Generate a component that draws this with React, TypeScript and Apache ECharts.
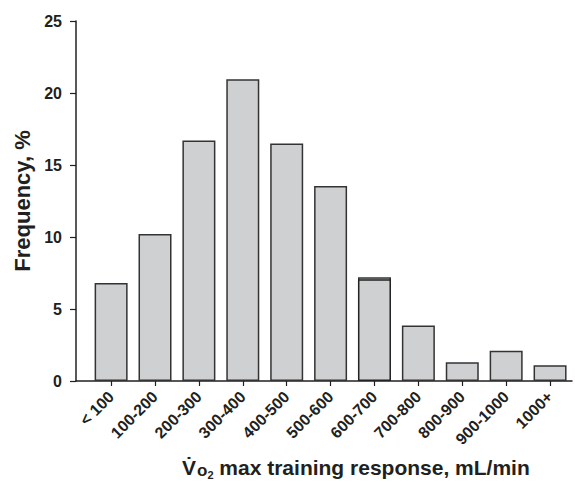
import React, { useEffect, useRef } from "react";
import * as echarts from "echarts";

const categories = ["< 100", "100-200", "200-300", "300-400", "400-500", "500-600", "600-700", "700-800", "800-900", "900-1000", "1000+"];
const frequency = [6.8, 10.2, 16.7, 20.95, 16.5, 13.55, 7.2, 3.85, 1.3, 2.1, 1.1];
// second outline drawn on top of the 600-700 bar, as in the original figure
const overlapIndex = [6];
const overlapValues = [7.07];
const yTicks = [0, 5, 10, 15, 20, 25];

const FONT = "'Liberation Sans', Arial, Helvetica, sans-serif";
const INK = "#231f20";

export default function App() {
  const ref = useRef<HTMLDivElement>(null);
  useEffect(() => {
    if (!ref.current) return;
    const chart = echarts.init(ref.current, undefined, { renderer: "svg" });
    const idx = categories.map((_, i) => i);
    chart.setOption({
      animation: false,
      backgroundColor: "#ffffff",
      grid: { left: 76, right: 3, top: 21, bottom: 101, containLabel: false },
      xAxis: {
        type: "value",
        min: -0.8,
        max: 10.5,
        splitLine: { show: false },
        axisLine: { show: true, onZero: false, lineStyle: { color: INK, width: 1.5 } },
        axisTick: { show: true, customValues: idx, length: 5, lineStyle: { color: INK, width: 1.2 } },
        axisLabel: {
          customValues: idx,
          formatter: (v: number) => categories[Math.round(v)] ?? "",
          rotate: 45,
          margin: 13,
          fontSize: 16,
          fontWeight: "bold",
          fontFamily: FONT,
          color: INK,
        },
      },
      yAxis: {
        type: "value",
        min: yTicks[0],
        max: yTicks[yTicks.length - 1],
        interval: 5,
        splitLine: { show: false },
        axisLine: { show: true, onZero: false, lineStyle: { color: INK, width: 1.5 } },
        axisTick: { show: true, length: 6, lineStyle: { color: INK, width: 1.2 } },
        axisLabel: { margin: 14, fontSize: 16, fontWeight: "bold", fontFamily: FONT, color: INK },
        name: "Frequency, %",
        nameLocation: "middle",
        nameGap: 43,
        nameTextStyle: { fontSize: 22, fontWeight: "bold", fontFamily: FONT, color: INK },
      },
      series: [
        {
          type: "bar",
          data: frequency.map((v, i) => [i, v]),
          barWidth: 33,
          itemStyle: { color: "#cfd0d2", borderColor: "#333333", borderWidth: 1.5 },
          silent: true,
        },
        {
          type: "bar",
          data: overlapIndex.map((i, k) => [i, overlapValues[k]]),
          barWidth: 33,
          barGap: "-100%",
          itemStyle: { color: "#cfd0d2", borderColor: "#222222", borderWidth: 1.5 },
          silent: true,
        },
      ],
      graphic: [
        {
          type: "text",
          left: 182,
          top: 457,
          style: {
            text: "{v|V\u0307}{o|o}{s|2}{t| max training response, mL/min}",
            fill: INK,
            rich: {
              v: { fontSize: 21, fontWeight: "bold", fontFamily: FONT, fill: INK },
              o: { fontSize: 17, fontWeight: "bold", fontFamily: FONT, fill: INK, padding: [5, 0, 0, 1] },
              s: { fontSize: 11, fontWeight: "bold", fontFamily: FONT, fill: INK, padding: [14, 0, 0, 0] },
              t: { fontSize: 21, fontWeight: "bold", fontFamily: FONT, fill: INK },
            },
          },
        },
      ],
    });
    return () => chart.dispose();
  }, []);
  return <div ref={ref} style={{ position: "fixed", left: 0, top: 0, width: 575, height: 482 }} />;
}
